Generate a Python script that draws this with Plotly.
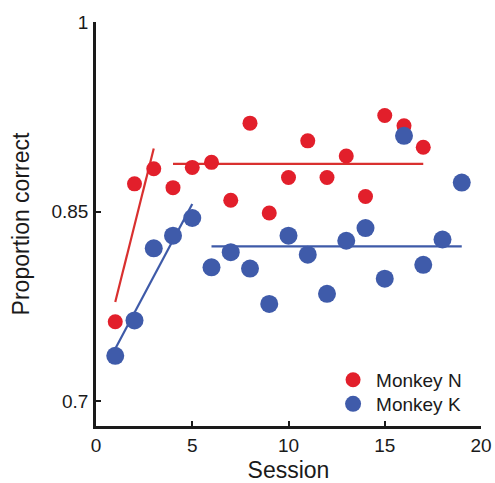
import plotly.graph_objects as go

# Data
sessions_n = [1, 2, 3, 4, 5, 6, 7, 8, 9, 10, 11, 12, 13, 14, 15, 16, 17]
monkey_n = [0.763, 0.872, 0.884, 0.869, 0.885, 0.889, 0.859, 0.920, 0.849, 0.877,
            0.906, 0.877, 0.894, 0.862, 0.926, 0.918, 0.901]
sessions_k = [1, 2, 3, 4, 5, 6, 7, 8, 9, 10, 11, 12, 13, 14, 15, 16, 17, 18, 19]
monkey_k = [0.736, 0.764, 0.821, 0.831, 0.845, 0.806, 0.818, 0.805, 0.777, 0.831,
            0.816, 0.785, 0.827, 0.837, 0.797, 0.910, 0.808, 0.828, 0.873]

# Fit lines (learning slope and plateau)
n_slope_x = [1, 3]
n_slope_y = [0.7785, 0.900]
n_plateau_x = [4, 17]
n_plateau_y = [0.8878, 0.8878]
k_slope_x = [1, 5]
k_slope_y = [0.7416, 0.856]
k_plateau_x = [6, 19]
k_plateau_y = [0.8226, 0.8226]

RED = "#E21F2B"
BLUE = "#3F5BAA"
RED_LINE = "#D9302F"
BLUE_LINE = "#3E5AA8"

fig = go.Figure()
for xs, ys, c in [(n_slope_x, n_slope_y, RED_LINE), (n_plateau_x, n_plateau_y, RED_LINE),
                  (k_slope_x, k_slope_y, BLUE_LINE), (k_plateau_x, k_plateau_y, BLUE_LINE)]:
    fig.add_trace(go.Scatter(x=xs, y=ys, mode="lines", line=dict(color=c, width=2.2),
                             showlegend=False, hoverinfo="skip"))

fig.add_trace(go.Scatter(x=sessions_n, y=monkey_n, mode="markers", name="Monkey N",
                         legend="legend",
                         marker=dict(color=RED, size=15, line=dict(width=0))))
fig.add_trace(go.Scatter(x=sessions_k, y=monkey_k, mode="markers", name="Monkey K",
                         legend="legend2",
                         marker=dict(color=BLUE, size=18, line=dict(width=0))))

font = "Liberation Sans, Arial, Helvetica, sans-serif"
leg_common = dict(x=0.608, xanchor="left", yanchor="middle", bgcolor="rgba(0,0,0,0)",
                  font=dict(size=19), itemsizing="trace", itemwidth=36)
fig.update_layout(
    width=495, height=483,
    margin=dict(l=96, r=14, t=22, b=57, autoexpand=False),
    plot_bgcolor="white", paper_bgcolor="white",
    font=dict(family=font, size=19, color="#1a1a1a"),
    showlegend=True,
    legend=dict(y=0.114, **leg_common),
    legend2=dict(y=0.0545, **leg_common),
)
fig.update_xaxes(
    range=[0, 20], tickvals=[0, 5, 10, 15, 20], ticks="inside", ticklen=5, tickwidth=2,
    tickcolor="#1a1a1a", showline=True, linecolor="#1a1a1a", linewidth=2.5,
    showgrid=False, zeroline=False, tickfont=dict(size=19), ticklabelstandoff=0,
    automargin=False,
    title=dict(text="Session", font=dict(size=23), standoff=14),
)
fig.update_yaxes(
    range=[0.6805, 1.0], tickvals=[0.7, 0.85, 1], ticktext=["0.7", "0.85", "1"],
    ticks="inside", ticklen=5, tickwidth=2, tickcolor="#1a1a1a",
    showline=True, linecolor="#1a1a1a", linewidth=2.5, showgrid=False, zeroline=False,
    tickfont=dict(size=19), ticklabelstandoff=1, automargin=False,
    title=dict(text="Proportion correct", font=dict(size=23), standoff=16),
)

fig.write_html("out.html", config={"displayModeBar": False},
               post_script="document.body.style.margin='0';document.body.style.overflow='hidden';")
